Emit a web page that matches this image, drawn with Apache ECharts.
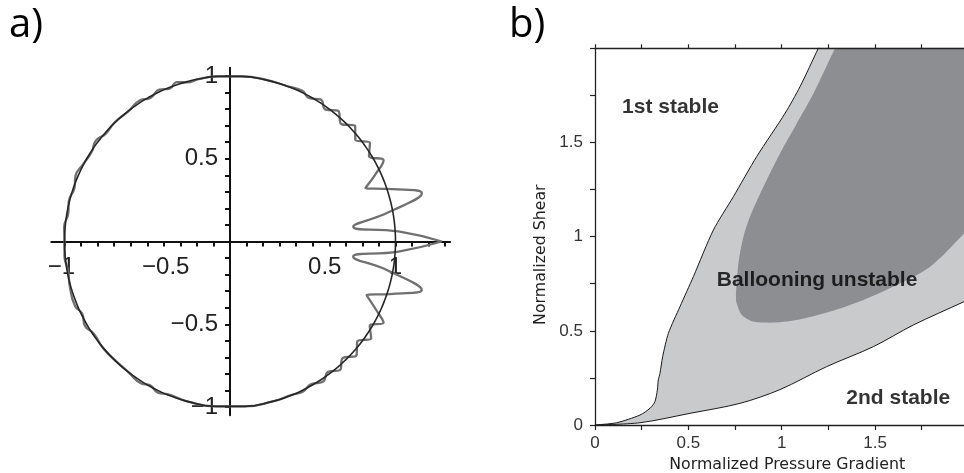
<!DOCTYPE html>
<html>
<head>
<meta charset="utf-8">
<script src="https://cdn.jsdelivr.net/npm/echarts@6/dist/echarts.min.js"></script>
<style>
html, body { margin: 0; padding: 0; background: #fff; }
#chart { width: 964px; height: 473px; }
</style>
</head>
<body>
<div id="chart"></div>
<script>
// ---- panel a: perturbed surface, polar angle (deg) and radius
var waveAngles = [0, 3.4, 6.8, 10.4, 14.1, 17.8, 21.5, 24.7, 27.9, 31.5, 35.2, 39, 42.8, 46.5, 50.5, 54, 57.5, 61, 64.5, 70,
  78, 86, 94, 101, 105, 108.4, 111.5, 115, 119, 122.5, 128, 134, 139, 143, 147, 152, 157, 161, 166, 170, 175, 180,
  185, 190, 196, 202.6, 206, 210.3, 214, 220, 226, 232, 238, 241, 244.5, 248, 255, 265, 275, 285, 292, 296, 299.5,
  303.5, 307, 310.5, 314, 318, 322, 325.5, 329, 332.1, 335.3, 338.6, 342.2, 345.8, 349.6, 353, 356.6, 360];
var waveRadius = [1.28, 1.02, 0.75, 0.97, 1.195, 1.035, 0.88, 0.965, 1.05, 0.985, 1.035, 0.975, 1.03, 0.978, 1.025, 0.985, 1.018, 0.99, 1.01, 1.0,
  1.002, 1.0, 1.0, 1.0, 0.995, 1.015, 0.993, 1.012, 0.992, 1.012, 0.998, 1.002, 0.994, 1.014, 0.996, 1.002, 1.014, 0.994, 1.004, 0.992, 1.006, 1.0,
  1.004, 0.994, 1.006, 1.014, 0.994, 1.014, 0.994, 1.002, 0.998, 1.0, 1.012, 0.994, 1.012, 0.996, 1.0, 1.0, 1.0, 1.0, 1.0, 1.008, 0.992,
  1.017, 0.986, 1.022, 0.98, 1.028, 0.977, 1.035, 0.985, 1.05, 0.965, 0.887, 1.035, 1.195, 0.97, 0.75, 1.02, 1.28];
var circleRadius = 1;

var aTicksX = [-1, -0.9, -0.8, -0.7, -0.6, -0.5, -0.4, -0.3, -0.2, -0.1, 0.1, 0.2, 0.3, 0.4, 0.5, 0.6, 0.7, 0.8, 0.9, 1, 1.1, 1.2, 1.3];
var aTicksY = [-1, -0.9, -0.8, -0.7, -0.6, -0.5, -0.4, -0.3, -0.2, -0.1, 0.1, 0.2, 0.3, 0.4, 0.5, 0.6, 0.7, 0.8, 0.9, 1];
var aLabels = [-1, -0.5, 0.5, 1];

// ---- panel b: stability diagram
var upperX = [0, 0.116, 0.241, 0.295, 0.321, 0.334, 0.339, 0.348, 0.3625, 0.393, 0.455, 0.527, 0.634, 0.741, 0.866, 1.018, 1.098, 1.196, 1.245, 2.05];
var upperY = [0, 0.012, 0.053, 0.089, 0.124, 0.186, 0.239, 0.274, 0.363, 0.487, 0.628, 0.788, 1.035, 1.212, 1.425, 1.655, 1.796, 2.0, 2.1, 2.1];
var lowerX = [0, 0.241, 0.509, 0.777, 0.991, 1.241, 1.491, 1.705, 1.977, 2.05];
var lowerY = [0, 0.012, 0.062, 0.115, 0.188, 0.31, 0.416, 0.531, 0.655, 0.69];
var darkTopX = [0.755, 0.768, 0.795, 0.83, 0.902, 0.991, 1.08, 1.17, 1.286, 1.34, 2.05];
var darkTopY = [0.69, 0.858, 1.0, 1.106, 1.265, 1.442, 1.6, 1.76, 2.0, 2.1, 2.1];
var darkBottomX = [0.75, 0.759, 0.786, 0.848, 0.9375, 1.08, 1.259, 1.4375, 1.616, 1.795, 1.977, 2.05];
var darkBottomY = [0.69, 0.646, 0.584, 0.549, 0.543, 0.557, 0.602, 0.664, 0.743, 0.84, 1.017, 1.1];

var bTicks = [0, 0.25, 0.5, 0.75, 1, 1.25, 1.5, 1.75, 2];
var bLabels = [0, 0.5, 1, 1.5];
var regionNames = ['1st stable', 'Ballooning unstable', '2nd stable'];
var regionX = [0.407, 1.192, 1.627];
var regionY = [1.686, 0.765, 0.139];

function pairs(xs, ys) {
  return xs.map(function (x, i) { return [x, ys[i]]; });
}
function minus(v) {
  return String(v).replace('-', '\u2212');
}

var chart = echarts.init(document.getElementById('chart'));

var aFont = { fontFamily: 'Liberation Sans', fontSize: 24, color: '#222' };
var bFont = { fontFamily: 'Liberation Sans', fontSize: 17, color: '#333' };

var option = {
  animation: false,
  backgroundColor: '#fff',
  graphic: [
    { type: 'text', left: 9, top: 6, style: { text: 'a)', fontFamily: 'Open Sans', fontSize: 40, fill: '#000' } },
    { type: 'text', left: 509, top: 6, style: { text: 'b)', fontFamily: 'Open Sans', fontSize: 40, fill: '#000' } }
  ],
  polar: { center: [230, 241.5], radius: 231.7 },
  radiusAxis: { min: 0, max: 1.4, show: false },
  angleAxis: { min: 0, max: 360, startAngle: 0, clockwise: false, show: false },
  grid: [
    { left: 51.3, top: 67.7, width: 398.8, height: 347.6, outerBoundsMode: 'none', containLabel: false },
    { left: 595, top: 48.3, width: 373.4, height: 376.7, outerBoundsMode: 'none', containLabel: false }
  ],
  xAxis: [
    {
      // crossing axes: shifted from the grid edge up to y = 0
      gridIndex: 0, type: 'value', min: -1.08, max: 1.33, position: 'bottom', offset: -173.8,
      axisLine: { onZero: false, lineStyle: { color: '#111', width: 2 } },
      axisTick: { customValues: aTicksX, length: 5, lineStyle: { color: '#111', width: 2 } },
      axisLabel: {
        customValues: aLabels, margin: 14,
        fontFamily: aFont.fontFamily, fontSize: aFont.fontSize, color: aFont.color,
        formatter: function (v) {
          if (v === -0.5) return '{r1|' + minus(v) + '}';
          if (v === 0.5) return '{r2|' + minus(v) + '}';
          if (v === -1) return '{l1|' + minus(v) + '}';
          return minus(v);
        },
        rich: {
          r1: { fontFamily: aFont.fontFamily, fontSize: aFont.fontSize, color: aFont.color, padding: [0, 0, 0, 37] },
          r2: { fontFamily: aFont.fontFamily, fontSize: aFont.fontSize, color: aFont.color, padding: [0, 0, 0, 24] },
          l1: { fontFamily: aFont.fontFamily, fontSize: aFont.fontSize, color: aFont.color, padding: [0, 6, 0, 0] }
        }
      },
      splitLine: { show: false }
    },
    {
      gridIndex: 1, type: 'value', min: 0, max: 2, position: 'bottom', z: 5,
      name: 'Normalized Pressure Gradient', nameLocation: 'middle', nameGap: 31,
      nameTextStyle: { fontFamily: 'DejaVu Sans', fontSize: 15.8, color: '#222', padding: [0, 0, 0, 11] },
      axisLine: { onZero: false, lineStyle: { color: '#222', width: 1.3 } },
      axisTick: { customValues: bTicks, length: 5, lineStyle: { color: '#222', width: 1.2 } },
      axisLabel: { customValues: bLabels, margin: 10, fontFamily: bFont.fontFamily, fontSize: bFont.fontSize, color: bFont.color },
      splitLine: { show: false }
    },
    {
      gridIndex: 1, type: 'value', min: 0, max: 2, position: 'top', z: 5,
      axisLine: { onZero: false, lineStyle: { color: '#222', width: 1.3 } },
      axisTick: { customValues: bTicks, length: 4, lineStyle: { color: '#222', width: 1.2 } },
      axisLabel: { show: false },
      splitLine: { show: false }
    }
  ],
  yAxis: [
    {
      gridIndex: 0, type: 'value', min: -1.05, max: 1.05, position: 'left', offset: -178.7,
      axisLine: { onZero: false, lineStyle: { color: '#111', width: 2 } },
      axisTick: { customValues: aTicksY, length: 5, lineStyle: { color: '#111', width: 2 } },
      axisLabel: {
        customValues: aLabels, margin: 12,
        fontFamily: aFont.fontFamily, fontSize: aFont.fontSize, color: aFont.color,
        formatter: function (v) { return minus(v); }
      },
      splitLine: { show: false }
    },
    {
      gridIndex: 1, type: 'value', min: 0, max: 2, position: 'left', z: 5,
      name: 'Normalized Shear', nameLocation: 'middle', nameGap: 46,
      nameTextStyle: { fontFamily: 'DejaVu Sans', fontSize: 15.8, color: '#222', padding: [0, 36, 0, 0] },
      axisLine: { onZero: false, lineStyle: { color: '#222', width: 1.3 } },
      axisTick: { customValues: bTicks, length: 5, lineStyle: { color: '#222', width: 1.2 } },
      axisLabel: { customValues: bLabels, margin: 12, fontFamily: bFont.fontFamily, fontSize: bFont.fontSize, color: bFont.color },
      splitLine: { show: false }
    }
  ],
  series: [
    {
      type: 'line', coordinateSystem: 'polar', symbol: 'none', smooth: true, clip: false, z: 3,
      data: waveAngles.map(function (a, i) { return [waveRadius[i], a]; }),
      lineStyle: { color: '#707070', width: 2.3 }
    },
    {
      type: 'line', coordinateSystem: 'polar', symbol: 'none', smooth: true, clip: false, z: 4,
      data: waveAngles.map(function (a) { return [circleRadius, a]; }),
      lineStyle: { color: '#262626', width: 1.6 }
    },
    {
      type: 'line', xAxisIndex: 1, yAxisIndex: 1, symbol: 'none', smooth: 0.25,
      data: pairs(upperX, upperY),
      lineStyle: { color: '#1a1a1a', width: 1 },
      areaStyle: { color: '#c9cacc', opacity: 1, origin: 'start' }
    },
    {
      type: 'line', xAxisIndex: 1, yAxisIndex: 1, symbol: 'none', smooth: 0.3,
      data: pairs(darkTopX, darkTopY),
      lineStyle: { width: 0 },
      areaStyle: { color: '#8d8e92', opacity: 1, origin: 'start' }
    },
    {
      type: 'line', xAxisIndex: 1, yAxisIndex: 1, symbol: 'none', smooth: 0.3,
      data: pairs(darkBottomX, darkBottomY),
      lineStyle: { width: 0 },
      areaStyle: { color: '#c9cacc', opacity: 1, origin: 'start' }
    },
    {
      type: 'line', xAxisIndex: 1, yAxisIndex: 1, symbol: 'none', smooth: 0.3,
      data: pairs(lowerX, lowerY),
      lineStyle: { color: '#1a1a1a', width: 1 },
      areaStyle: { color: '#ffffff', opacity: 1, origin: 'start' }
    },
    {
      type: 'scatter', xAxisIndex: 1, yAxisIndex: 1, symbolSize: 1, z: 6,
      itemStyle: { color: 'rgba(0,0,0,0)' },
      data: regionNames.map(function (n, i) { return { name: n, value: [regionX[i], regionY[i]] }; }),
      label: {
        show: true, position: [0, 0], align: 'center', verticalAlign: 'middle', formatter: '{b}',
        fontFamily: 'Liberation Sans', fontWeight: 'bold', fontSize: 21, color: '#000', textBorderWidth: 0
      }
    }
  ]
};

chart.setOption(option);
</script>
</body>
</html>
